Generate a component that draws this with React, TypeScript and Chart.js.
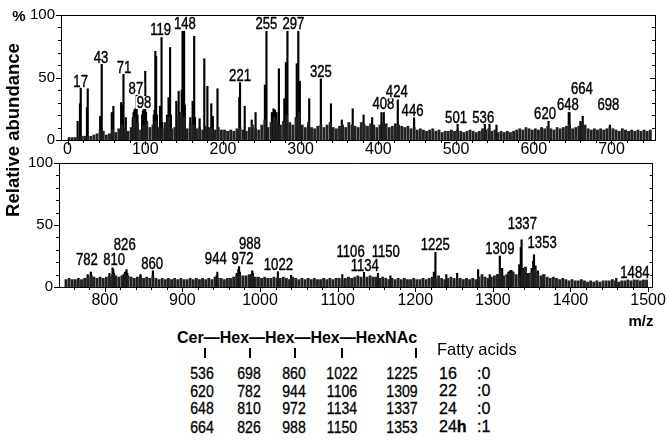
import React, { useEffect, useRef } from "react";
import { Chart, registerables } from "chart.js";
Chart.register(...registerables);

const SANS = '"Liberation Sans", Arial, sans-serif';

// ---------- top panel (m/z 0-750) ----------
const topNoiseStart = 2;
const topNoiseStep = 4;
const topNoise = [
  2, 2, 2, 3, 3, 3, 3, 3, 4, 5, 8, 7, 4, 5, 8, 6, 9, 12, 10, 7, 10, 18, 14, 8, 12,
  14, 10, 12, 15, 10, 9, 14, 18, 9, 10, 20, 22, 18, 9, 14, 12, 9, 10, 8, 11, 10, 9, 8, 10, 8,
  8, 7, 8, 7, 9, 10, 8, 7, 10, 12, 9, 8, 12, 16, 10, 14, 18, 16, 12, 15, 20, 14, 12, 18, 22,
  12, 10, 14, 10, 9, 11, 12, 10, 12, 14, 10, 9, 11, 12, 10, 14, 12, 11, 10, 14, 12, 11, 13, 12, 10,
  12, 14, 13, 10, 11, 13, 12, 11, 10, 11, 9, 10, 8, 9, 8, 7, 8, 9, 7, 8, 6, 7, 7, 8, 7,
  8, 7, 6, 7, 8, 7, 6, 7, 9, 8, 9, 7, 8, 6, 7, 6, 7, 6, 7, 8, 9, 8, 10, 9, 8,
  9, 8, 10, 9, 11, 9, 8, 10, 9, 10, 11, 13, 9, 10, 11, 14, 12, 9, 8, 9, 8, 9, 8, 9, 10,
  9, 8, 7, 9, 8, 7, 8, 7, 8, 7, 8, 7, 8,
];
const topPeakMz = [
  13, 16, 17, 25, 26, 42, 44, 57, 59, 69, 70, 72, 75, 84, 85, 86, 87, 88, 89, 90,
  96, 97, 98, 99, 100, 101, 102, 110, 111, 112, 113, 114, 115, 119, 121, 122, 128, 130, 132, 133,
  140, 143, 144, 147, 148, 149, 150, 151, 158, 161, 163, 164, 170, 176, 180, 185, 187, 193, 221, 222,
  228, 237, 242, 254, 256, 263, 265, 267, 269, 272, 279, 281, 283, 295, 297, 299, 311, 326, 339, 353,
  367, 381, 392, 404, 407, 425, 446, 502, 537, 543, 552, 619, 645, 646, 660, 663, 698,
];
const topPeakInt = [
  15, 29, 42, 26, 41, 19, 61, 22, 27, 30, 28, 53, 18, 18, 22, 24, 25, 24, 36, 20,
  20, 23, 25, 24, 55, 22, 15, 10, 20, 24, 71, 67, 20, 27, 82, 14, 20, 34, 74, 20,
  31, 39, 22, 40, 87, 87, 87, 28, 18, 31, 83, 18, 17, 65, 43, 29, 19, 41, 34, 46,
  27, 16, 22, 44, 87, 22, 25, 24, 22, 57, 33, 62, 87, 61, 87, 47, 33, 49, 29, 16,
  25, 20, 18, 22, 22, 32, 18, 13, 13, 13, 12, 15, 22, 22, 15, 19, 12,
];
const topLabelText = ["17", "43", "71", "87", "98", "119", "148", "221", "255", "297", "325", "408", "424", "446", "501", "536", "620", "648", "664", "698"];
const topLabelMz = [16.9, 43, 72.7, 88, 98.5, 119.9, 151, 222, 256, 290.6, 326, 406.5, 423.7, 444, 500, 535, 614.5, 644, 662, 696];
const topLabelLevel = [47, 66, 58, 41.5, 30, 88, 93.5, 51.5, 93, 93, 54.5, 29, 38.5, 23.4, 18, 18, 21, 28, 41, 28];
const topTicks = [0, 100, 200, 300, 400, 500, 600, 700];

// ---------- bottom panel (m/z 750-1500) ----------
const botNoiseStart = 750;
const botNoiseStep = 4;
const botNoise = [
  6, 7, 6, 6, 7, 6, 7, 8, 9, 8, 7, 8, 7, 8, 9, 10, 9, 8, 9, 10, 9, 8, 7, 8, 9,
  7, 8, 7, 9, 7, 6, 7, 6, 7, 6, 7, 6, 7, 6, 6, 7, 6, 7, 6, 7, 6, 7, 6, 8, 7,
  7, 6, 7, 7, 8, 9, 10, 9, 9, 10, 9, 8, 8, 7, 8, 7, 7, 8, 7, 7, 8, 7, 6, 8, 7,
  6, 7, 6, 7, 6, 7, 6, 6, 7, 6, 7, 6, 7, 7, 6, 7, 8, 7, 8, 9, 8, 7, 8, 9, 8,
  8, 7, 8, 7, 6, 7, 6, 7, 6, 7, 6, 6, 7, 6, 6, 7, 6, 7, 8, 7, 9, 7, 6, 7, 8,
  7, 6, 7, 6, 7, 6, 7, 6, 8, 10, 8, 7, 8, 9, 10, 12, 9, 10, 11, 12, 10, 9, 14, 16, 11,
  12, 14, 11, 9, 10, 8, 7, 8, 7, 6, 7, 6, 5, 6, 5, 5, 6, 5, 4, 5, 4, 5, 4, 5, 5,
  5, 6, 5, 4, 5, 5, 6, 5, 6, 6, 5, 6, 6,
];
const botPeakMz = [
  778, 782, 783, 806, 810, 811, 812, 824, 826, 828, 829, 846, 862, 944, 945, 970, 972, 973, 974, 988,
  990, 991, 1023, 1040, 1106, 1134, 1152, 1168, 1224, 1226, 1240, 1254, 1281, 1296, 1306, 1309, 1312, 1320, 1322, 1324,
  1326, 1334, 1336, 1337, 1339, 1344, 1350, 1352, 1353, 1355, 1358, 1365, 1459, 1474, 1482,
];
const botPeakInt = [
  10, 12, 9, 11, 15.5, 14, 11, 10, 12, 14, 11, 10, 13, 9, 12, 11, 14, 16.5, 12, 10,
  13, 11, 12.5, 9.5, 10, 12, 11, 9, 12, 28, 10, 11, 14, 10, 10, 25, 15, 12, 13, 13.5,
  12, 18, 32, 38, 15, 11, 15, 21, 26, 17, 13, 10, 7, 6, 6.5,
];
const botLabelText = ["782", "810", "826", "860", "944", "972", "988", "1022", "1106", "1134", "1150", "1225", "1309", "1337", "1353", "1484"];
const botLabelMz = [777, 812, 825.7, 861, 943, 977.5, 987, 1023.7, 1116.7, 1135, 1162, 1225.8, 1309, 1338, 1363.5, 1483];
const botLabelLevel = [21.8, 21.8, 34.4, 19, 22.6, 22.6, 35, 18, 28.6, 17.3, 28.6, 33.9, 31, 51.4, 35.7, 11.3];
const botTicks = [800, 900, 1000, 1100, 1200, 1300, 1400, 1500];

const yTicks = [0, 50, 100];

// ---------- structure table ----------
const tableRows = [
  ["536", "698", "860", "1022", "1225"],
  ["620", "782", "944", "1106", "1309"],
  ["648", "810", "972", "1134", "1337"],
  ["664", "826", "988", "1150", "1353"],
];
const fattyChain = ["16", "22", "24", "24"];
const fattyHydroxy = ["", "", "", "h"];
const fattyUnsat = [":0", ":0", ":0", ":1"];

const decorPlugin = {
  id: "decor",
  afterDraw(chart: any, _args: any, opts: any) {
    const { ctx, chartArea: a, scales } = chart;
    const xs = scales.x;
    const ys = scales.y;
    ctx.save();
    ctx.strokeStyle = "#000";
    ctx.lineWidth = 1;
    ctx.beginPath();
    ctx.moveTo(a.left, Math.round(a.top) + 0.5);
    ctx.lineTo(a.right, Math.round(a.top) + 0.5);
    ctx.stroke();
    for (let v = 0; v <= 100; v += 10) {
      const y = Math.round(ys.getPixelForValue(v)) + 0.5;
      const len = v % 50 === 0 ? 5 : 3;
      ctx.beginPath();
      ctx.moveTo(a.left - len, y);
      ctx.lineTo(a.left, y);
      ctx.moveTo(a.right - len, y);
      ctx.lineTo(a.right, y);
      ctx.stroke();
    }
    const start = Math.ceil(xs.min / 20) * 20;
    for (let v = start; v <= xs.max; v += 20) {
      const x = Math.round(xs.getPixelForValue(v)) + 0.5;
      const len = v % 100 === 0 ? 5 : 3;
      ctx.beginPath();
      ctx.moveTo(x, a.bottom);
      ctx.lineTo(x, a.bottom + len);
      ctx.stroke();
    }
    // peak labels (horizontally condensed)
    ctx.font = `16px ${SANS}`;
    ctx.textAlign = "center";
    ctx.textBaseline = "middle";
    ctx.lineWidth = 0.4;
    const sx = 0.82;
    const texts: string[] = opts.texts;
    texts.forEach((t, i) => {
      const x = xs.getPixelForValue(opts.mz[i]);
      const y = ys.getPixelForValue(opts.level[i]);
      const w = ctx.measureText(t).width * sx;
      ctx.fillStyle = "#fff";
      ctx.fillRect(x - w / 2 - 1, y - 6.5, w + 2, 13);
      ctx.save();
      ctx.translate(x, y + 1);
      ctx.scale(sx, 1);
      ctx.fillStyle = "#000";
      ctx.fillText(t, 0, 0);
      ctx.strokeText(t, 0, 0);
      ctx.restore();
    });
    ctx.restore();
  },
};

function buildPanel(
  canvas: HTMLCanvasElement,
  p: {
    noiseStart: number; noiseStep: number; noise: number[];
    peakMz: number[]; peakInt: number[];
    xmin: number; xmax: number; ticks: number[];
    padTop: number; xAxisH: number; yAxisW: number; xPad: number;
    texts: string[]; mz: number[]; level: number[];
  }
) {
  const noiseData = p.noise.map((v, i) => ({ x: p.noiseStart + i * p.noiseStep, y: v }));
  const peakData = p.peakMz.map((m, i) => ({ x: m, y: p.peakInt[i] }));
  return new Chart(canvas, {
    type: "bar",
    data: {
      datasets: [
        { data: noiseData, backgroundColor: "#222", barThickness: 2.2, grouped: false } as any,
        { data: peakData, backgroundColor: "#000", barThickness: 1.5, grouped: false } as any,
      ],
    },
    plugins: [decorPlugin],
    options: {
      animation: false,
      responsive: false,
      maintainAspectRatio: false,
      events: [],
      layout: { padding: { top: p.padTop, left: 0, right: 0, bottom: 0 } },
      plugins: {
        legend: { display: false },
        tooltip: { enabled: false },
        decor: { texts: p.texts, mz: p.mz, level: p.level },
      } as any,
      scales: {
        x: {
          type: "linear",
          min: p.xmin,
          max: p.xmax,
          offset: false,
          grid: { display: false, drawTicks: false },
          border: { display: true, color: "#000", width: 1 },
          ticks: {
            color: "#000", font: { family: SANS, size: 16 }, padding: p.xPad, maxRotation: 0, autoSkip: false,
            callback: (v: any) => String(v),
          },
          afterBuildTicks: (s: any) => { s.ticks = p.ticks.map((v) => ({ value: v })); },
          afterFit: (s: any) => { s.height = p.xAxisH; },
        },
        y: {
          position: "left",
          min: 0,
          max: 100,
          grid: { display: false, drawTicks: false },
          border: { display: true, color: "#000", width: 1 },
          ticks: { color: "#000", font: { family: SANS, size: 15 }, padding: 6, callback: (v: any) => String(v) },
          afterBuildTicks: (s: any) => { s.ticks = yTicks.map((v) => ({ value: v })); },
          afterFit: (s: any) => { s.width = p.yAxisW; },
        },
        y2: {
          position: "right",
          min: 0,
          max: 100,
          grid: { display: false, drawTicks: false },
          border: { display: true, color: "#000", width: 1 },
          ticks: { display: false },
          afterFit: (s: any) => { s.width = 15; },
        },
      } as any,
    },
  });
}

export default function App() {
  const topRef = useRef<HTMLCanvasElement>(null);
  const botRef = useRef<HTMLCanvasElement>(null);

  useEffect(() => {
    const top = buildPanel(topRef.current!, {
      noiseStart: topNoiseStart, noiseStep: topNoiseStep, noise: topNoise,
      peakMz: topPeakMz, peakInt: topPeakInt,
      xmin: -8.4, xmax: 756, ticks: topTicks,
      padTop: 11, xAxisH: 25, yAxisW: 61, xPad: 0,
      texts: topLabelText, mz: topLabelMz, level: topLabelLevel,
    });
    const bot = buildPanel(botRef.current!, {
      noiseStart: botNoiseStart, noiseStep: botNoiseStep, noise: botNoise,
      peakMz: botPeakMz, peakInt: botPeakInt,
      xmin: 741, xmax: 1506, ticks: botTicks,
      padTop: 12, xAxisH: 26, yAxisW: 59, xPad: 4,
      texts: botLabelText, mz: botLabelMz, level: botLabelLevel,
    });
    return () => { top.destroy(); bot.destroy(); };
  }, []);

  const abs = (x: number, y: number, extra: React.CSSProperties = {}): React.CSSProperties => ({
    position: "absolute", left: x, top: y, transform: "translate(-50%, -50%)", whiteSpace: "nowrap", lineHeight: 1, ...extra,
  });
  const colX = [201.7, 249.3, 294.3, 341.7, 402.3];
  const rowY = [374, 391.7, 409.3, 427.7];
  const barX = [204, 249, 294, 341, 415];
  const numStyle: React.CSSProperties = { font: `16px ${SANS}`, transform: "translate(-50%, -50%) scaleX(0.88)", WebkitTextStroke: "0.3px #000" } as any;

  return (
    <div style={{ position: "absolute", left: 0, top: 0, width: 670, height: 440, background: "#fff", overflow: "hidden", color: "#000" }}>
      <canvas ref={topRef} width={670} height={165} style={{ position: "absolute", left: 0, top: 0, width: 670, height: 165 }} />
      <canvas ref={botRef} width={670} height={165} style={{ position: "absolute", left: 0, top: 148, width: 670, height: 165 }} />
      <div style={abs(19, 15, { font: `bold 15px ${SANS}` })}>%</div>
      <div style={abs(13, 130, { font: `bold 18.5px ${SANS}`, transform: "translate(-50%, -50%) rotate(-90deg)" })}>Relative abundance</div>
      <div style={abs(641, 320, { font: `bold 15px ${SANS}` })}>m/z</div>
      <div style={{ position: "absolute", left: 177, top: 330, font: `bold 16px ${SANS}`, whiteSpace: "nowrap", lineHeight: 1 }}>Cer—Hex—Hex—Hex—HexNAc</div>
      {barX.map((x, i) => (
        <div key={"b" + i} style={{ position: "absolute", left: x, top: 348, width: 2, height: 10, background: "#000" }} />
      ))}
      {tableRows.map((row, r) =>
        row.map((t, c) => (
          <div key={r + "-" + c} style={abs(colX[c], rowY[r], numStyle)}>{t}</div>
        ))
      )}
      <div style={{ position: "absolute", left: 437, top: 341, font: `16.5px ${SANS}`, whiteSpace: "nowrap", lineHeight: 1 }}>Fatty acids</div>
      {fattyChain.map((t, r) => (
        <React.Fragment key={"f" + r}>
          <div style={{ position: "absolute", left: 439, top: rowY[r] - 8.5, font: `16px ${SANS}`, lineHeight: 1, WebkitTextStroke: "0.3px #000" } as any}>
            {t}<b>{fattyHydroxy[r]}</b>
          </div>
          <div style={{ position: "absolute", left: 477, top: rowY[r] - 8.5, font: `16px ${SANS}`, lineHeight: 1, WebkitTextStroke: "0.3px #000" } as any}>{fattyUnsat[r]}</div>
        </React.Fragment>
      ))}
    </div>
  );
}
